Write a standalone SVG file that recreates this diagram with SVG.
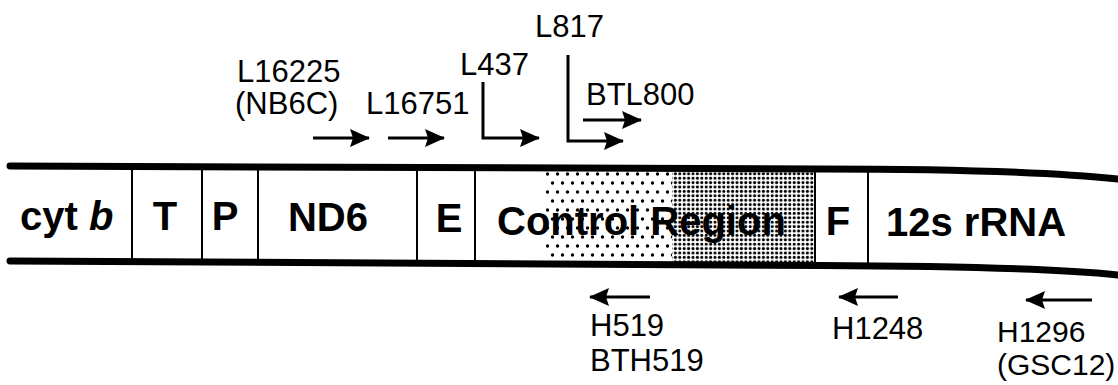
<svg xmlns="http://www.w3.org/2000/svg" width="1118" height="385" viewBox="0 0 1118 385">
<style>
.seg{font-family:"Liberation Sans",Arial,sans-serif;font-weight:bold;font-size:40px;fill:#000}
.lbl{font-family:"Liberation Sans",Arial,sans-serif;font-size:31px;fill:#000}
.sm{font-size:30px}
.strand{fill:none;stroke:#000;stroke-width:7;stroke-linecap:round}
.div{stroke:#000;stroke-width:2}
.arr{fill:none;stroke:#000;stroke-width:3;marker-end:url(#ah)}
</style>
<defs>
<marker id="ah" viewBox="0 0 20 20" refX="19" refY="10" markerWidth="20" markerHeight="20" orient="auto" markerUnits="userSpaceOnUse">
<path d="M0,1 L20,10 L0,19 L3,10 z" fill="#000"/>
</marker>
<pattern id="light" width="10" height="18" patternUnits="userSpaceOnUse">
<circle cx="2.5" cy="3" r="1.7" fill="#000"/>
<circle cx="7.5" cy="12" r="1.7" fill="#000"/>
</pattern>
<pattern id="dense" width="4.4" height="4.4" patternUnits="userSpaceOnUse">
<circle cx="2.2" cy="2.2" r="1.55" fill="#000"/>
</pattern>
</defs>
<rect width="1118" height="385" fill="#fff"/>

<g id="stipple">
<rect x="546" y="168" width="126" height="96" fill="url(#light)"/>
<rect x="672" y="168" width="142" height="96" fill="url(#dense)"/>
</g>

<g id="strands">
<path class="strand" d="M10,166 L820,169 C950,169 1050,172 1118,179"/>
<path class="strand" d="M10,261 L820,265.5 C950,266 1050,268 1118,275"/>
</g>

<g id="dividers">
<line class="div" x1="132" y1="167" x2="132" y2="262"/>
<line class="div" x1="202" y1="167" x2="202" y2="262"/>
<line class="div" x1="258" y1="167" x2="258" y2="262"/>
<line class="div" x1="417" y1="167" x2="417" y2="263"/>
<line class="div" x1="475" y1="168" x2="475" y2="263"/>
<line class="div" x1="815" y1="169" x2="815" y2="265"/>
<line class="div" x1="868" y1="169" x2="868" y2="266"/>
</g>

<g id="cytb"><text class="seg" x="20" y="230">cyt <tspan font-style="italic">b</tspan></text></g>
<g id="T"><text class="seg" x="165" y="230" text-anchor="middle">T</text></g>
<g id="P"><text class="seg" x="225" y="230" text-anchor="middle">P</text></g>
<g id="ND6"><text class="seg" x="328" y="231" text-anchor="middle">ND6</text></g>
<g id="E"><text class="seg" x="449" y="232" text-anchor="middle">E</text></g>
<g id="control"><text class="seg" x="497" y="235">Control Region</text></g>
<g id="F"><text class="seg" x="838" y="235" text-anchor="middle">F</text></g>
<g id="rRNA12s"><text class="seg" x="886" y="236">12s rRNA</text></g>

<g id="connectors">
<path class="arr" d="M313,138 H369"/>
<path class="arr" d="M388,138 H444"/>
<path class="arr" d="M483,82 V138 H539"/>
<path class="arr" d="M568,55 V141 H623"/>
<path class="arr" d="M583,120 H641"/>
<path class="arr" d="M650,297 H590"/>
<path class="arr" d="M898,297 H839"/>
<path class="arr" d="M1092,300 H1026"/>
</g>

<g id="primer-L16225"><text class="lbl" x="237" y="82">L16225</text><text class="lbl" x="235" y="114">(NB6C)</text></g>
<g id="primer-L16751"><text class="lbl" x="366" y="114">L16751</text></g>
<g id="primer-L437"><text class="lbl" x="460" y="75">L437</text></g>
<g id="primer-L817"><text class="lbl" x="535" y="37">L817</text></g>
<g id="primer-BTL800"><text class="lbl" x="586" y="105">BTL800</text></g>
<g id="primer-H519"><text class="lbl" x="590" y="336">H519</text><text class="lbl" x="590" y="371">BTH519</text></g>
<g id="primer-H1248"><text class="lbl" x="832" y="339">H1248</text></g>
<g id="primer-H1296"><text class="lbl sm" x="997" y="342">H1296</text><text class="lbl sm" x="997" y="375">(GSC12)</text></g>
</svg>
